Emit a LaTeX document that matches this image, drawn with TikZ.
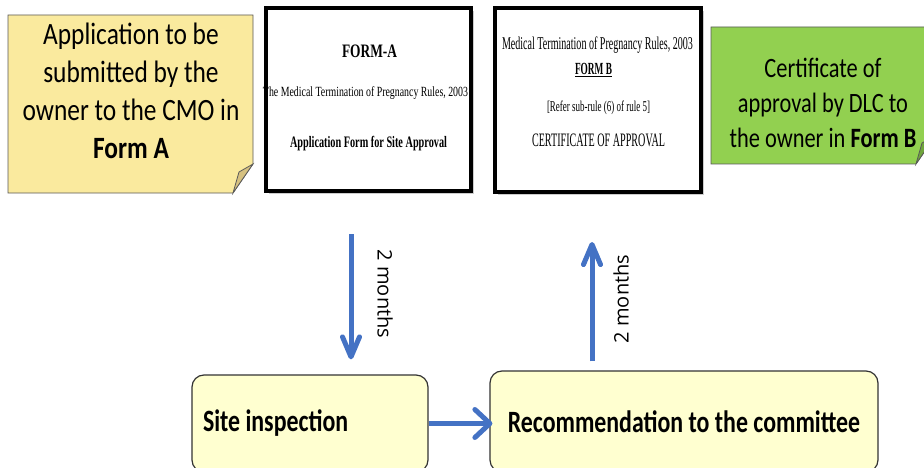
\documentclass[tikz,border=0pt]{standalone}
\usepackage{fontspec}
\usepackage{graphicx}
\setmainfont{Carlito}
\newfontfamily\notefont{Carlito}[FakeStretch=0.82]
\newfontfamily\greenfont{Carlito}[FakeStretch=0.8]
\newfontfamily\boxfont{Carlito}[FakeStretch=0.77]
\newfontfamily\monthfont{Open Sans}
\newfontfamily\formfont{Liberation Serif}
\usetikzlibrary{arrows.meta,shadows}

\definecolor{noteyellow}{RGB}{250,234,158}
\definecolor{notefold}{RGB}{214,193,128}
\definecolor{notegreen}{RGB}{146,208,80}
\definecolor{greenfold}{RGB}{112,165,60}
\definecolor{boxyellow}{RGB}{255,255,208}
\definecolor{flowblue}{RGB}{68,114,196}

% squeeze a line of text to a given width, keeping its height
\newcommand{\squeeze}[2]{\resizebox{#1}{\height}{#2}}

\tikzstyle{note} = [draw=black!65, line width=0.8pt]
\tikzstyle{notetext} = [align=center, inner sep=0pt]
\tikzstyle{form} = [rectangle, draw=black, line width=4pt, fill=white, drop shadow={shadow xshift=3pt, shadow yshift=-3pt, opacity=0.4}]
\tikzstyle{formtext} = [inner sep=0pt, anchor=base, font=\formfont]
\tikzstyle{stage} = [rectangle, rounded corners=12pt, draw=black!80, line width=1.2pt, fill=boxyellow, font=\boxfont\fontsize{31}{38}\selectfont\bfseries]
\tikzstyle{line} = [draw=flowblue, line width=5pt]
\tikzstyle{months} = [inner sep=0pt, font=\monthfont\fontsize{20}{24}\selectfont]

\begin{document}
\begin{tikzpicture}[x=1pt, y=-1pt]
  \useasboundingbox (0,0) rectangle (924,468);
  \clip (0,0) rectangle (924,468);

  % sticky notes with a folded corner
  \path[note, fill=noteyellow] (8,15) -- (253,15) -- (253,164) -- (233,193) -- (8,193) -- cycle;
  \path[note, fill=notefold] (233,193) -- (239,172) -- (253,164) -- cycle;
  \path[note, fill=notegreen] (711,27) -- (936,27) -- (936,135) -- (916,164) -- (711,164) -- cycle;
  \path[note, fill=greenfold] (916,164) -- (922,143) -- (936,135) -- cycle;

  \node[notetext, font=\notefont\fontsize{31}{38}\selectfont] (apply) at (131,91)
    {Application to be\\submitted by the\\owner to the CMO in\\\textbf{Form A}};
  \node[notetext, font=\greenfont\fontsize{28}{35}\selectfont] (certify) at (823,103)
    {Certificate of\\approval by DLC to\\the owner in \textbf{Form B}};

  % the two forms
  \node[form, minimum width=205, minimum height=183] (formA) at (368.5,99.5) {};
  \node[formtext] (formA-title) at (369.5,58) {\squeeze{55pt}{\fontsize{19}{19}\selectfont\bfseries FORM-A}};
  \node[formtext] (formA-rules) at (365.5,97) {\squeeze{205pt}{\fontsize{14}{14}\selectfont The Medical Termination of Pregnancy Rules, 2003}};
  \node[formtext] (formA-name) at (368.5,148) {\squeeze{157pt}{\fontsize{16}{16}\selectfont\bfseries Application Form for Site Approval}};

  \node[form, minimum width=206, minimum height=184] (formB) at (598,100) {};
  \node[formtext] (formB-rules) at (597.5,50) {\squeeze{191pt}{\fontsize{18}{18}\selectfont Medical Termination of Pregnancy Rules, 2003}};
  \node[formtext] (formB-title) at (593.5,75) {\squeeze{37pt}{\fontsize{17}{17}\selectfont\bfseries\underline{FORM B}}};
  \node[formtext] (formB-ref) at (598.5,112) {\squeeze{103pt}{\fontsize{15}{15}\selectfont [Refer sub-rule (6) of rule 5]}};
  \node[formtext] (formB-name) at (598.5,147) {\squeeze{133pt}{\fontsize{19}{19}\selectfont CERTIFICATE OF APPROVAL}};

  % process steps
  \node[stage, minimum width=236, minimum height=97] (site) at (310,423.5) {\makebox[214pt][l]{Site inspection}};
  \node[stage, minimum width=388, minimum height=101] (recommend) at (684,421.5) {Recommendation to the committee};

  \path[line, -{Straight Barb[length=20pt,width=17pt,round]}] ([xshift=-17.5pt,yshift=-41pt]formA.south) -- ([xshift=41pt,yshift=15pt]site.north);
  \path[line, -{Straight Barb[length=15pt,width=28pt,round]}] (site.east) -- ([xshift=3pt]site.east -| recommend.west);
  \path[line, -{Straight Barb[length=20pt,width=17pt,round]}] ([xshift=-92pt,yshift=9pt]recommend.north) -- ([xshift=-6pt,yshift=-48pt]formB.south);

  \node[months, rotate=-90] (down-time) at (385,294) {2 months};
  \node[months, rotate=90] (up-time) at (621,299) {2 months};
\end{tikzpicture}
\end{document}
